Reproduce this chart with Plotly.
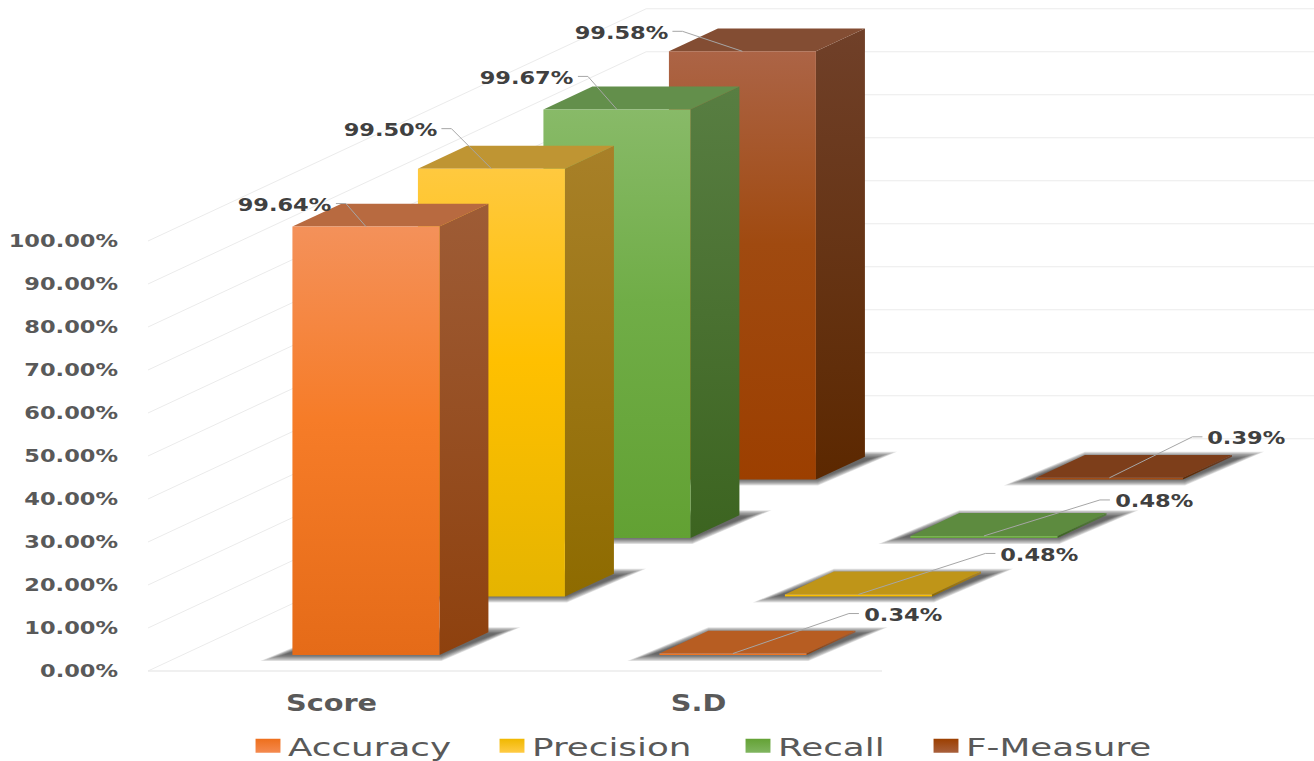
import plotly.graph_objects as go

# Chart values
categories = ["Score", "S.D"]
series_names = ["Accuracy", "Precision", "Recall", "F-Measure"]
accuracy = [99.64, 0.34]
precision = [99.50, 0.48]
recall = [99.67, 0.48]
f_measure = [99.58, 0.39]
series_values = [accuracy, precision, recall, f_measure]
tick_values = [0, 10, 20, 30, 40, 50, 60, 70, 80, 90, 100]

# Face colours per series, top of the ramp first
front_ramps = [
    ["#F4915A", "#F67C28", "#E56B18"],
    ["#FFC93F", "#FFC000", "#E5B400"],
    ["#88BA68", "#70AD47", "#62A133"],
    ["#AC6446", "#A04A10", "#9C3F00"],
]
side_ramps = [
    ["#9E5C36", "#8E410E"],
    ["#A88028", "#8E6B00"],
    ["#587E42", "#3C6420"],
    ["#704029", "#5C2800"],
]
top_faces = ["#B86A40", "#BF9533", "#638F4B", "#834D33"]
flat_tops = ["#B75D22", "#BF9518", "#5D8B3F", "#7D3E1A"]
key_ramps = [["#F48A50", "#EE6F1C"], ["#FFCB45", "#F0B800"], ["#80B560", "#64A235"], ["#A8603C", "#9C3F00"]]

# Oblique projection: category units across, percent up, series slots in depth
PX_PER_CAT = 367.0
PX_PER_PCT = 4.3
ORIGIN_PX = 148.0
ZERO_PX = 671.0
SLOT_DX = 125.5 / PX_PER_CAT
SLOT_DY = 58.5 / PX_PER_PCT
BAR_LEFT = 0.30
BAR_WIDTH = 147.0 / PX_PER_CAT
BAR_DEPTH = 49.0 / 125.5
FRONT_GAP = 0.2735
FLOOR_DEPTH = 3.97
PLOT_LEFT = 119
PLOT_BOTTOM = 687
WIDTH, HEIGHT = 1314, 761


def project(x, z, v):
    return x + z * SLOT_DX, v + z * SLOT_DY


def poly(corners):
    pts = [project(*c) for c in corners]
    pts.append(pts[0])
    return [p[0] for p in pts], [p[1] for p in pts]


def ramp(colors):
    # Plotly's vertical gradient runs from the lowest y upward
    n = len(colors) - 1
    stops = [0, 0.55, 1] if n == 2 else [0, 1]
    return [[s, c] for s, c in zip(stops, reversed(colors))]


def face(corners, color=None, gradient=None):
    xs, ys = poly(corners)
    t = go.Scatter(x=xs, y=ys, mode="lines", line=dict(width=0), fill="toself",
                   hoverinfo="skip", showlegend=False)
    if gradient:
        t.fillgradient = dict(type="vertical", colorscale=ramp(gradient))
    else:
        t.fillcolor = color
    return t


fig = go.Figure()

# Wall and floor gridlines
GRID = "#EBEBEB"
x_end = (WIDTH - ORIGIN_PX) / PX_PER_CAT
for v in tick_values:
    bx, by = project(0, FLOOR_DEPTH, v)
    fig.add_trace(go.Scatter(x=[0, bx, x_end], y=[v, by, by], mode="lines",
                             line=dict(color=GRID, width=1), hoverinfo="skip", showlegend=False))
fig.add_trace(go.Scatter(x=[0, 2], y=[0, 0], mode="lines", line=dict(color=GRID, width=1.5),
                         hoverinfo="skip", showlegend=False))

# Soft floor shadows: stacked translucent layers, reach shrinking as they darken
shadow_layers = [(5, 32), (4.2, 29), (3.4, 26), (2.6, 23), (1.8, 20), (1, 17), (0.2, 14), (-0.6, 11), (-1.4, 8)]
for c in range(len(categories)):
    for s in range(len(series_names)):
        xl = c + BAR_LEFT
        xr = xl + BAR_WIDTH
        zf = FRONT_GAP + s
        zb = zf + BAR_DEPTH
        for grow, reach in shadow_layers:
            gv = grow / PX_PER_PCT
            rx = reach / PX_PER_CAT
            corners = [
                (xl - rx, zf, -(grow + 1) / PX_PER_PCT),
                (xr + 2 / PX_PER_CAT, zf, -(grow + 1) / PX_PER_PCT),
                (xr + rx, zb, gv),
                (xl, zb, gv),
            ]
            fig.add_trace(face(corners, color="rgba(50,50,50,0.13)"))

# Bars, painted from the back of the floor to the front
for c in range(len(categories)):
    for s in reversed(range(len(series_names))):
        v = series_values[s][c]
        xl = c + BAR_LEFT
        xr = xl + BAR_WIDTH
        zf = FRONT_GAP + s
        zb = zf + BAR_DEPTH
        top = flat_tops[s] if v < 5 else top_faces[s]
        fig.add_trace(face([(xr, zf, 0), (xr, zb, 0), (xr, zb, v), (xr, zf, v)], gradient=side_ramps[s]))
        fig.add_trace(face([(xl, zf, v), (xr, zf, v), (xr, zb, v), (xl, zb, v)], color=top))
        fig.add_trace(face([(xl, zf, 0), (xr, zf, 0), (xr, zf, v), (xl, zf, v)], gradient=front_ramps[s]))

# Leader elbows relative to each bar's front-top centre, in pixels (right, up)
elbows = [
    [(-20, 23), (116, 40)],
    [(-40, 40), (127, 41)],
    [(-29, 33), (116, 36)],
    [(-60, 20), (83, 41)],
]
label_half_width = [46, 39]
annotations = []
for c in range(len(categories)):
    for s in range(len(series_names)):
        v = series_values[s][c]
        zf = FRONT_GAP + s
        ax, ay = project(c + BAR_LEFT + BAR_WIDTH / 2, zf, v)
        dx, dy = elbows[s][c]
        ex, ey = ax + dx / PX_PER_CAT, ay + dy / PX_PER_PCT
        sign = -1 if c == 0 else 1
        tail = ex + sign * 10 / PX_PER_CAT
        fig.add_trace(go.Scatter(x=[ax, ex, tail], y=[ay, ey, ey], mode="lines",
                                 line=dict(color="#A6A6A6", width=1), hoverinfo="skip", showlegend=False))
        annotations.append(dict(
            x=tail, y=ey, xref="x", yref="y", text=f"{v:.2f}%", showarrow=False,
            xanchor="center", xshift=sign * (5 + label_half_width[c]), yshift=-1,
            font=dict(family="DejaVu Sans", size=18, color="#404040", weight="bold"),
        ))

# Colour key: one legend per series so each entry sits at its own place
key_left_px = [248, 492, 738, 926]
layout_legends = {}
for i, name in enumerate(series_names):
    key = "legend" if i == 0 else f"legend{i + 1}"
    fig.add_trace(go.Scatter(
        x=[None], y=[None], mode="markers", name=name, legend=key, showlegend=True,
        marker=dict(symbol="square", size=14, color=key_ramps[i][1],
                    gradient=dict(type="vertical", color=key_ramps[i][0])),
    ))
    layout_legends[key] = dict(
        xref="container", yref="container",
        x=key_left_px[i] / WIDTH, xanchor="left",
        y=(HEIGHT - 746) / HEIGHT, yanchor="middle",
        orientation="h", bgcolor="rgba(0,0,0,0)",
        font=dict(family="DejaVu Sans", size=25, color="#595959"),
    )

fig.update_layout(
    width=WIDTH, height=HEIGHT, autosize=False,
    margin=dict(l=PLOT_LEFT, r=0, t=0, b=HEIGHT - PLOT_BOTTOM, pad=0),
    paper_bgcolor="white", plot_bgcolor="white",
    annotations=annotations,
    xaxis=dict(
        range=[(PLOT_LEFT - ORIGIN_PX) / PX_PER_CAT, x_end],
        tickmode="array", tickvals=[i + 0.5 for i in range(len(categories))], ticktext=categories,
        showgrid=False, zeroline=False, showline=False, ticks="", automargin=False,
        tickfont=dict(family="DejaVu Sans", size=23, color="#595959", weight="bold"),
    ),
    yaxis=dict(
        range=[(ZERO_PX - PLOT_BOTTOM) / PX_PER_PCT, ZERO_PX / PX_PER_PCT],
        tickmode="array", tickvals=tick_values, ticktext=[f"{v:.2f}%" for v in tick_values],
        showgrid=False, zeroline=False, showline=False, ticks="", automargin=False,
        tickfont=dict(family="DejaVu Sans", size=18, color="#595959", weight="bold"),
    ),
    **layout_legends,
)

# The chart's lettering and key swatches are drawn wider than tall
WIDEN_SCRIPT = """
function widen(selector, factor) {
  document.querySelectorAll(selector).forEach(function (el) {
    var x = parseFloat(el.getAttribute('x')) || 0;
    var t = el.getAttribute('transform') || '';
    el.setAttribute('transform', t + ' translate(' + x + ',0) scale(' + factor + ',1) translate(' + (-x) + ',0)');
  });
}
widen('.xtick text', 1.25);
widen('.ytick text', 1.25);
widen('.annotation-text', 1.25);
widen('.legendtext, .legend2text, .legend3text, .legend4text', 1.43);
widen('.legendpoints path', 1.78);
document.querySelectorAll('.scrollbox').forEach(function (el) { el.removeAttribute('clip-path'); });
"""

fig.write_html("out.html", config=dict(displayModeBar=False), post_script=WIDEN_SCRIPT)
